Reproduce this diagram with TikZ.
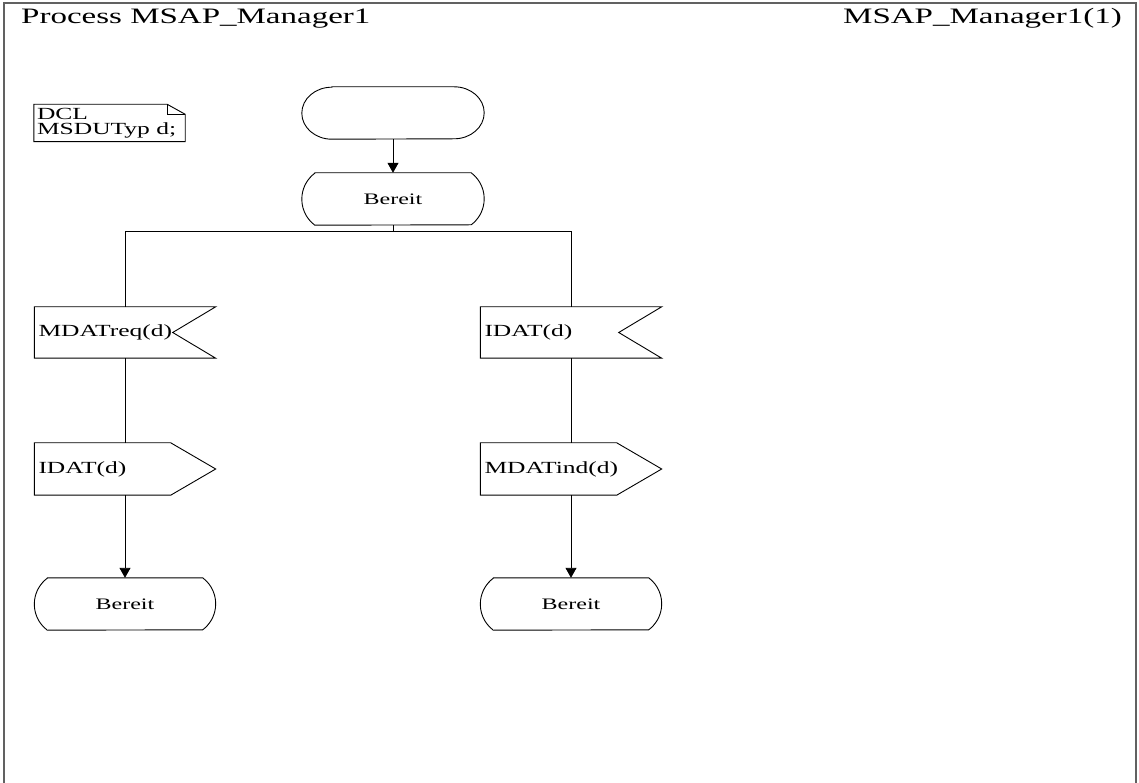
\documentclass[tikz,border=0pt]{standalone}
\usepackage{fontspec}
\setmainfont{Liberation Serif}
\usetikzlibrary{calc,arrows.meta}

% horizontally widened lettering used throughout the chart
\newcommand\wide[1]{\scalebox{1.5}[1]{#1}}

% SDL symbol outlines, drawn around named (invisible) nodes
\newcommand\startsym[1]{%
  \draw[sdl] ($(#1.north west)+(30pt,0)$) -- ($(#1.north east)+(-30pt,0)$)
    arc[start angle=90,end angle=-90,x radius=30pt,y radius=26pt]
    -- ($(#1.south west)+(30pt,0)$)
    arc[start angle=270,end angle=90,x radius=30pt,y radius=26pt] -- cycle;}
\newcommand\statesym[1]{%
  \draw[sdl] ($(#1.north west)+(13pt,0)$) -- ($(#1.north east)+(-13pt,0)$)
    arc[start angle=53.13,end angle=-53.13,radius=32.5pt]
    -- ($(#1.south west)+(13pt,0)$)
    arc[start angle=233.13,end angle=126.87,radius=32.5pt] -- cycle;}
\newcommand\inputsym[1]{%
  \draw[sdl] (#1.north west) -- (#1.north east) -- ($(#1.east)+(-43pt,0)$)
    -- (#1.south east) -- (#1.south west) -- cycle;}
\newcommand\outputsym[1]{%
  \draw[sdl] (#1.north west) -- ($(#1.north east)+(-45pt,0)$) -- (#1.east)
    -- ($(#1.south east)+(-45pt,0)$) -- (#1.south west) -- cycle;}
\newcommand\notesym[1]{%
  \draw[sdl] (#1.north west) -- ($(#1.north east)+(-18pt,0)$)
    -- ($(#1.north east)+(0,-10pt)$) -- (#1.south east) -- (#1.south west) -- cycle;
  \draw[sdl] ($(#1.north east)+(-18pt,0)$) -- ++(0,-10pt) -- ($(#1.north east)+(0,-10pt)$);}

\begin{document}
\begin{tikzpicture}[x=1pt,y=1pt,
  sdl/.style={draw=black,line width=0.9pt,line join=miter},
  frameline/.style={draw=black!62,line width=1.8pt},
  flow/.style={draw=black,line width=0.9pt},
  flowarrow/.style={flow,-{Triangle[width=11pt,length=10pt]}},
  symbox/.style={minimum width=#1,minimum height=52pt,inner sep=0pt},
  symbox/.default=182pt,
  titlefont/.style={font=\fontsize{22}{26}\selectfont,inner sep=0pt},
  statefont/.style={font=\fontsize{16}{19}\selectfont},
  sigfont/.style={font=\fontsize{17}{20}\selectfont,inner xsep=4pt,inner ysep=0pt,
                  minimum height=51pt},
]
\useasboundingbox (0,0) rectangle (1139,782);

% page frame (open at the bottom)
\draw[frameline] (4,-5) -- (4,779) -- (1136,779) -- (1136,-5);

% headings
\node[titlefont,anchor=base west] (title) at (21,758) {\wide{Process MSAP\_Manager1}};
\node[titlefont,anchor=base east] (page) at (1122,758) {\wide{MSAP\_Manager1(1)}};

% declaration text symbol
\node[minimum width=151pt,minimum height=37pt,inner xsep=3pt,inner ysep=0pt,
      font=\fontsize{17}{15}\selectfont] (dcl) at (109.5,659)
  {\makebox[145pt][l]{\wide{\vbox{\baselineskip=14.5pt\hbox{DCL}\hbox{MSDUTyp d;}}}}};
\notesym{dcl}

% start and first state
\node[symbox] (start) at (393,669) {};
\startsym{start}
\node[symbox,statefont] (ready) at (393,583) {\wide{Bereit}};
\statesym{ready}

% left branch
\node[sigfont] (inL) at (125,449.5) {\makebox[173pt][l]{\wide{MDATreq(d)}}};
\inputsym{inL}
\node[sigfont,minimum height=52pt] (outL) at (125,313) {\makebox[173pt][l]{\wide{IDAT(d)}}};
\outputsym{outL}
\node[symbox=181pt,statefont] (readyL) at (125,178) {\wide{Bereit}};
\statesym{readyL}

% right branch
\node[sigfont] (inR) at (571,449.5) {\makebox[173pt][l]{\wide{IDAT(d)}}};
\inputsym{inR}
\node[sigfont,minimum height=52pt] (outR) at (571,313) {\makebox[173pt][l]{\wide{MDATind(d)}}};
\outputsym{outR}
\node[symbox=181pt,statefont] (readyR) at (571,178) {\wide{Bereit}};
\statesym{readyR}

% flow lines
\coordinate (fork) at (393,551);
\draw[flowarrow] (start.south) -- (ready.north);
\draw[flow] (ready.south) -- (fork);
\draw[flow] (inL.north) -- (inL.north |- fork) -- (inR.north |- fork) -- (inR.north);
\draw[flow] (inL.south) -- (outL.north);
\draw[flow] (inR.south) -- (outR.north);
\draw[flowarrow] (outL.south) -- (readyL.north);
\draw[flowarrow] (outR.south) -- (readyR.north);
\end{tikzpicture}
\end{document}
